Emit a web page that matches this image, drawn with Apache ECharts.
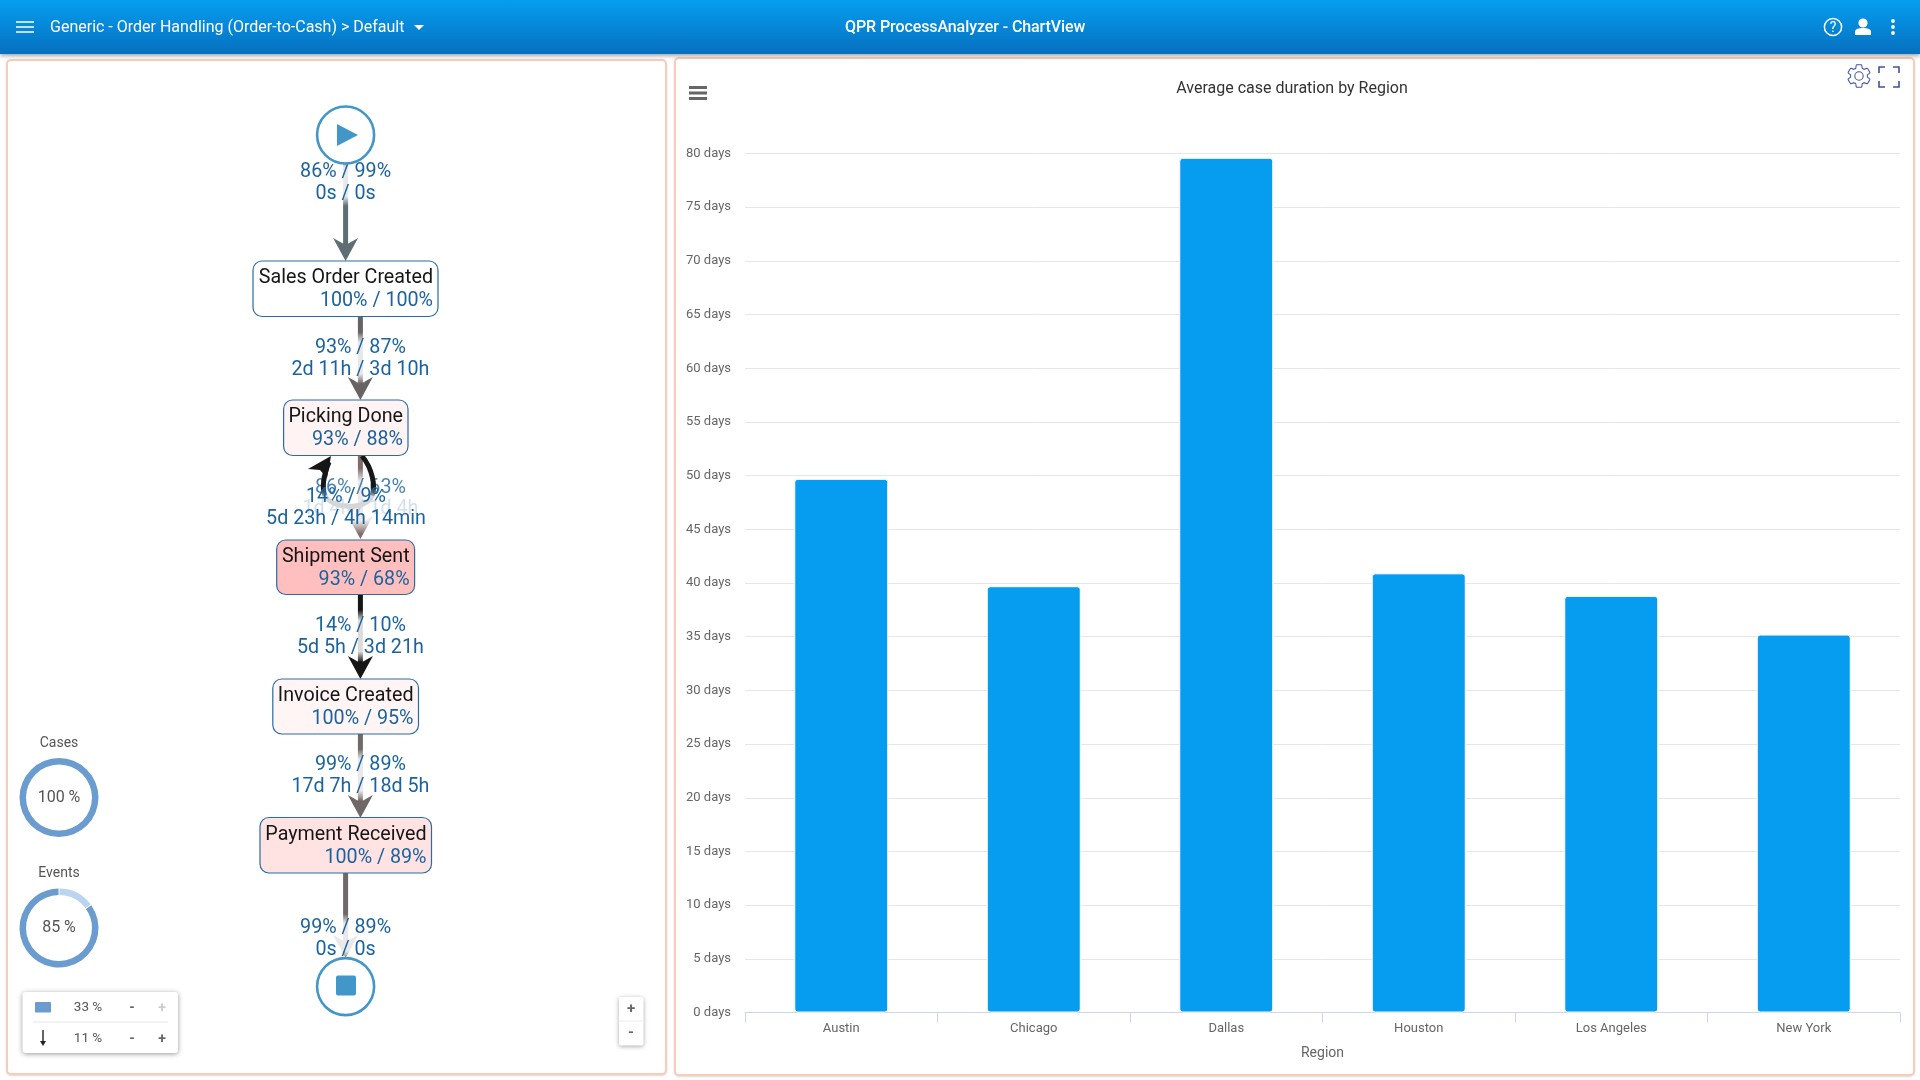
<!DOCTYPE html>
<html>
<head>
<meta charset="utf-8">
<title>QPR ProcessAnalyzer - ChartView</title>
<script src="https://cdn.jsdelivr.net/npm/echarts@6/dist/echarts.min.js"></script>
<style>
html,body{margin:0;padding:0;width:1920px;height:1080px;overflow:hidden;background:#fff;font-family:Roboto,sans-serif;}
#header{position:absolute;left:0;top:0;width:1920px;height:54px;background:linear-gradient(#069ef0,#0670bf);box-shadow:0 2px 4px rgba(0,0,0,.35);color:#fff;z-index:3;}
#header span{position:absolute;top:16px;font-size:16px;line-height:22px;white-space:nowrap;}
#crumb{left:50px;}
#appTitle{left:845px;width:240px;text-align:left;font-weight:500;letter-spacing:-0.09px;}
#header svg{position:absolute;}
.panel{position:absolute;box-sizing:border-box;background:#fff;border:2px solid #f9cbb9;border-radius:5px;box-shadow:0 1px 2px rgba(0,0,0,.15);}
#flowPanel{left:6px;top:59px;width:661px;height:1016px;}
#chartPanel{left:674px;top:57px;width:1241px;height:1019px;}
#main{position:absolute;left:0;top:0;width:1920px;height:1080px;z-index:1;}
.tool{position:absolute;z-index:2;}
</style>
</head>
<body>
<div id="flowPanel" class="panel"></div>
<div id="chartPanel" class="panel"></div>
<div id="main"></div>

<svg class="tool" style="left:1845px;top:62px" width="28" height="28" viewBox="0 0 24 24"><path fill="none" stroke="#3f51a0" stroke-width="0.9" d="M19.14,12.94c0.04-0.3,0.06-0.61,0.06-0.94c0-0.32-0.02-0.64-0.07-0.94l2.03-1.58c0.18-0.14,0.23-0.41,0.12-0.61 l-1.92-3.32c-0.12-0.22-0.37-0.29-0.59-0.22l-2.39,0.96c-0.5-0.38-1.03-0.7-1.62-0.94L14.4,2.81c-0.04-0.24-0.24-0.41-0.48-0.41 h-3.84c-0.24,0-0.43,0.17-0.47,0.41L9.25,5.35C8.66,5.59,8.12,5.92,7.63,6.29L5.24,5.33c-0.22-0.08-0.47,0-0.59,0.22L2.74,8.87 C2.62,9.08,2.66,9.34,2.86,9.48l2.03,1.58C4.84,11.36,4.8,11.69,4.8,12s0.02,0.64,0.07,0.94l-2.03,1.58 c-0.18,0.14-0.23,0.41-0.12,0.61l1.92,3.32c0.12,0.22,0.37,0.29,0.59,0.22l2.39-0.96c0.5,0.38,1.03,0.7,1.62,0.94l0.36,2.54 c0.05,0.24,0.24,0.41,0.48,0.41h3.84c0.24,0,0.44-0.17,0.47-0.41l0.36-2.54c0.59-0.24,1.13-0.56,1.62-0.94l2.39,0.96 c0.22,0.08,0.47,0,0.59-0.22l1.92-3.32c0.12-0.22,0.07-0.47-0.12-0.61L19.14,12.94z M12,15.6c-1.98,0-3.6-1.62-3.6-3.6 s1.62-3.6,3.6-3.6s3.6,1.62,3.6,3.6S13.98,15.6,12,15.6z"/></svg>
<svg class="tool" style="left:1878px;top:66px" width="22" height="22" viewBox="0 0 22 22"><path fill="none" stroke="#3f51a0" stroke-width="1.6" d="M1,7V1H7M15,1H21V7M21,15V21H15M7,21H1V15"/></svg>
<svg class="tool" style="left:689px;top:86px" width="18" height="14" viewBox="0 0 18 14"><path stroke="#666" stroke-width="3" d="M0,1.5H18M0,7H18M0,12.5H18"/></svg>

<div id="header">
  <svg style="left:16px;top:21px" width="18" height="12" viewBox="0 0 18 12"><path stroke="#fff" stroke-width="1.6" d="M0,1H18M0,6H18M0,11H18"/></svg>
  <span id="crumb">Generic - Order Handling (Order-to-Cash) &gt; Default</span>
  <svg style="left:414px;top:25px" width="10" height="5" viewBox="0 0 10 5"><path fill="#fff" d="M0,0H10L5,5z"/></svg>
  <span id="appTitle">QPR ProcessAnalyzer - ChartView</span>
  <svg style="left:1823px;top:17px" width="20" height="20" viewBox="0 0 20 20"><circle cx="10" cy="10" r="8.6" fill="none" stroke="#fff" stroke-width="1.5"/><text x="10" y="15" fill="#fff" font-size="14" text-anchor="middle" font-family="Roboto">?</text></svg>
  <svg style="left:1854px;top:18px" width="18" height="18" viewBox="0 0 18 18"><circle cx="9" cy="5" r="4.6" fill="#fff"/><path fill="#fff" d="M1,17V13.5C1,11,5,10,9,10s8,1,8,3.5V17z"/></svg>
  <svg style="left:1890px;top:18px" width="6" height="18" viewBox="0 0 6 18"><circle cx="3" cy="3" r="1.9" fill="#fff"/><circle cx="3" cy="9" r="1.9" fill="#fff"/><circle cx="3" cy="15" r="1.9" fill="#fff"/></svg>
</div>

<script>
// bar chart data
var regions = ['Austin', 'Chicago', 'Dallas', 'Houston', 'Los Angeles', 'New York'];
var avgCaseDays = [49.7, 39.7, 79.6, 40.9, 38.8, 35.2];
var chartTitle = 'Average case duration by Region';
var xAxisName = 'Region';

// process flow texts
var nodeNames = ['Sales Order Created', 'Picking Done', 'Shipment Sent', 'Invoice Created', 'Payment Received'];
var nodeShares = ['100% / 100%', '93% / 88%', '93% / 68%', '100% / 95%', '100% / 89%'];
var edgeShares = ['86% / 99%', '93% / 87%', '86% / 63%', '14% / 10%', '99% / 89%', '99% / 89%'];
var edgeTimes = ['0s / 0s', '2d 11h / 3d 10h', '1d 4h / 1d 4h', '5d 5h / 3d 21h', '17d 7h / 18d 5h', '0s / 0s'];
var loopShare = '14% / 9%';
var loopTime = '5d 23h / 4h 14min';

// gauges and sliders
var gaugeNames = ['Cases', 'Events'];
var gaugeValues = [100, 85];
var sliderValues = ['33 %', '11 %'];

var NAME_COLOR = '#161616', LABEL_COLOR = '#1b639f', NODE_BORDER = '#2a6ca6', MARK_COLOR = '#4397c8';
var FLOW_FONT = '19.7px Roboto';
var g = [];

function text(str, x, y, font, fill, align) {
	g.push({type: 'text', style: {text: str, x: x, y: y + 2, font: font, fill: fill, align: align || 'center', verticalAlign: 'middle'}});
}

function arrowHead(x, tip, color) {
	g.push({type: 'polygon', shape: {points: [[x, tip], [x - 12.5, tip - 23], [x, tip - 16], [x + 12.5, tip - 23]]}, style: {fill: color}});
}

// white band that washes out the edge behind its labels
function fade(x, y1, y2, w) {
	g.push({type: 'rect', shape: {x: x - w, y: y1, width: w * 2, height: y2 - y1}, style: {fill: {
		type: 'linear', x: 0, y: 0, x2: 0, y2: 1,
		colorStops: [
			{offset: 0, color: 'rgba(255,255,255,0)'}, {offset: 0.2, color: 'rgba(255,255,255,.85)'},
			{offset: 0.8, color: 'rgba(255,255,255,.85)'}, {offset: 1, color: 'rgba(255,255,255,0)'}
		]
	}}});
}

function edge(i, x, y1, y2, color, labelY, fadeTop, fadeBottom, fadeW) {
	g.push({type: 'line', shape: {x1: x, y1: y1, x2: x, y2: y2 - 8}, style: {stroke: color, lineWidth: 5}});
	arrowHead(x, y2, color);
	fade(x, fadeTop, fadeBottom, fadeW);
	text(edgeShares[i], x, labelY, FLOW_FONT, LABEL_COLOR);
	text(edgeTimes[i], x, labelY + 22, FLOW_FONT, LABEL_COLOR);
}

function node(i, x1, x2, y1, y2, fill) {
	g.push({type: 'rect', shape: {x: x1, y: y1, width: x2 - x1, height: y2 - y1, r: 9}, style: {fill: fill, stroke: NODE_BORDER, lineWidth: 1.2}});
	text(nodeNames[i], x2 - 5, y1 + 15.3, FLOW_FONT, NAME_COLOR, 'right');
	text(nodeShares[i], x2 - 5, y1 + 38.3, FLOW_FONT, LABEL_COLOR, 'right');
}

function curve(x1, y1, cpx1, cpy1, cpx2, cpy2, x2, y2, stroke) {
	g.push({type: 'bezierCurve', shape: {x1: x1, y1: y1, cpx1: cpx1, cpy1: cpy1, cpx2: cpx2, cpy2: cpy2, x2: x2, y2: y2}, style: {fill: 'none', lineWidth: 5, stroke: stroke}});
}

function loopFade(fromColor, toColor) {
	return {type: 'linear', x: 0, y: 0, x2: 0, y2: 1, colorStops: [{offset: 0, color: fromColor}, {offset: 0.75, color: fromColor}, {offset: 1, color: toColor}]};
}

// flow edges
edge(0, 345.6, 160, 261, '#5f6d74', 170, 158, 206, 5);
edge(1, 360.4, 316, 400, '#676263', 346, 332, 384, 5);

// Picking Done -> Shipment Sent with the loop back on top of it
g.push({type: 'line', shape: {x1: 360.4, y1: 456, x2: 360.4, y2: 530}, style: {stroke: '#806a6a', lineWidth: 5}});
arrowHead(360.4, 539, '#806a6a');
fade(360.4, 468, 534, 14);
text(edgeShares[2], 360.4, 486, FLOW_FONT, 'rgba(27,99,159,.8)');
text(edgeTimes[2], 360.4, 507, FLOW_FONT, 'rgba(27,99,159,.2)');
curve(362, 456, 372, 468, 376, 486, 372, 496, loopFade('#161616', '#d6d6d6'));
curve(372, 496, 366, 510, 334, 510, 325, 496, '#d6d6d6');
curve(329, 462, 325, 472, 321, 486, 325, 496, loopFade('#161616', '#d6d6d6'));
g.push({type: 'polygon', shape: {points: [[331, 456], [308, 469], [320, 470], [327, 478]]}, style: {fill: '#161616'}});
text(loopShare, 346, 495, FLOW_FONT, LABEL_COLOR);
text(loopTime, 346, 517, FLOW_FONT, LABEL_COLOR);

edge(3, 360.4, 594, 679, '#151515', 624.4, 610, 662, 5);
edge(4, 360.4, 734, 818, '#706868', 763.4, 749, 801, 5);
edge(5, 345.6, 873, 958, '#706868', 926, 914, 960, 14);

// activities
node(0, 253, 438, 261, 316.5, '#ffffff');
node(1, 283.6, 408, 400, 455.5, '#fff3f3');
node(2, 276.7, 414.6, 540, 594.5, '#ffbfbf');
node(3, 272.8, 418.5, 679, 734, '#fff5f5');
node(4, 260, 431.5, 817.5, 873, '#ffe2e2');

// start and end
g.push({type: 'circle', shape: {cx: 345.6, cy: 135, r: 28.5}, style: {fill: '#fff', stroke: MARK_COLOR, lineWidth: 2.6}});
g.push({type: 'polygon', shape: {points: [[337, 124], [358, 135], [337, 146]]}, style: {fill: MARK_COLOR}});
g.push({type: 'circle', shape: {cx: 345.6, cy: 986.6, r: 28.5}, style: {fill: '#fff', stroke: MARK_COLOR, lineWidth: 2.6}});
g.push({type: 'rect', shape: {x: 336, y: 975.6, width: 20, height: 20, r: 2}, style: {fill: MARK_COLOR}});

// gauge captions
text(gaugeNames[0], 59, 741, '14px Roboto', '#555');
text(gaugeNames[1], 59, 871, '14px Roboto', '#555');

// slider box
g.push({type: 'rect', shape: {x: 22.5, y: 992, width: 155.5, height: 61, r: 3}, style: {fill: '#fff', shadowBlur: 5, shadowOffsetY: 1, shadowColor: 'rgba(0,0,0,.4)'}});
g.push({type: 'rect', shape: {x: 35, y: 1002, width: 16, height: 10.5, r: 1}, style: {fill: '#6a9ccf'}});
g.push({type: 'line', shape: {x1: 33, y1: 1022, x2: 168, y2: 1022}, style: {stroke: '#e4e4e4', lineWidth: 1}});
g.push({type: 'line', shape: {x1: 43, y1: 1030, x2: 43, y2: 1044}, style: {stroke: '#222', lineWidth: 1.4}});
g.push({type: 'polygon', shape: {points: [[40, 1041], [46, 1041], [43, 1046]]}, style: {fill: '#222'}});
text(sliderValues[0], 88, 1006, '13.5px Roboto', '#555');
text(sliderValues[1], 88, 1037, '13.5px Roboto', '#555');
text('-', 132, 1006, 'bold 14px Roboto', '#666');
text('+', 162, 1006, 'bold 14px Roboto', '#ccc');
text('-', 132, 1037, 'bold 14px Roboto', '#666');
text('+', 162, 1037, 'bold 14px Roboto', '#666');

// zoom box
g.push({type: 'rect', shape: {x: 619, y: 997, width: 24.5, height: 48.5, r: 2}, style: {fill: '#fff', shadowBlur: 4, shadowOffsetY: 1, shadowColor: 'rgba(0,0,0,.35)'}});
g.push({type: 'line', shape: {x1: 619, y1: 1021, x2: 643.5, y2: 1021}, style: {stroke: '#eee', lineWidth: 1}});
text('+', 631, 1007, 'bold 15px Roboto', '#666');
text('-', 631, 1031, 'bold 15px Roboto', '#666');

function gaugeSeries(value, cy) {
	var labelStyle = {show: true, position: 'center', formatter: '{c} %', fontFamily: 'Roboto', fontSize: 16, color: '#555', padding: [4, 0, 0, 0]};
	var data = [{value: value, itemStyle: {color: '#6a9ccf'}, label: labelStyle}];
	if (value < 100) {
		// the unfilled part sits at the top, starting at twelve o'clock
		data.unshift({value: 100 - value, itemStyle: {color: '#b9d5f1'}, label: {show: false}});
	}
	return {
		type: 'pie', silent: true, center: [59, cy], radius: [33, 39.5], startAngle: 90, clockwise: true,
		padAngle: value < 100 ? 1.5 : 0, labelLine: {show: false}, data: data, z: 5
	};
}

var chart = echarts.init(document.getElementById('main'));
chart.setOption({
	animation: false,
	backgroundColor: 'transparent',
	title: {
		text: chartTitle, left: 1287, top: 84, textAlign: 'center', textVerticalAlign: 'middle',
		textStyle: {fontFamily: 'Roboto', fontSize: 16, fontWeight: 'normal', color: '#333'}
	},
	grid: {left: 745, right: 20, top: 153.5, bottom: 67.5},
	xAxis: {
		type: 'category', data: regions, name: xAxisName, nameLocation: 'middle', nameGap: 34,
		nameTextStyle: {fontFamily: 'Roboto', fontSize: 14, color: '#666'},
		axisLine: {lineStyle: {color: '#ccd6eb', width: 1}},
		axisTick: {show: true, alignWithLabel: false, length: 10, lineStyle: {color: '#ccd6eb'}},
		axisLabel: {fontFamily: 'Roboto', fontSize: 13, color: '#666', margin: 10}
	},
	yAxis: {
		type: 'value', min: 0, max: 80, interval: 5,
		axisLine: {show: false}, axisTick: {show: false},
		splitLine: {lineStyle: {color: '#e6e6e6', width: 1}},
		axisLabel: {formatter: '{value} days', fontFamily: 'Roboto', fontSize: 13, color: '#666', margin: 14, padding: [0, 0, 7, 0]}
	},
	series: [
		{
			type: 'bar', data: avgCaseDays, barWidth: 94, silent: true,
			itemStyle: {color: '#069cf0', borderColor: '#fff', borderWidth: 1, borderRadius: 3}
		},
		gaugeSeries(gaugeValues[0], 797.6),
		gaugeSeries(gaugeValues[1], 928)
	],
	graphic: g
});
</script>
</body>
</html>
